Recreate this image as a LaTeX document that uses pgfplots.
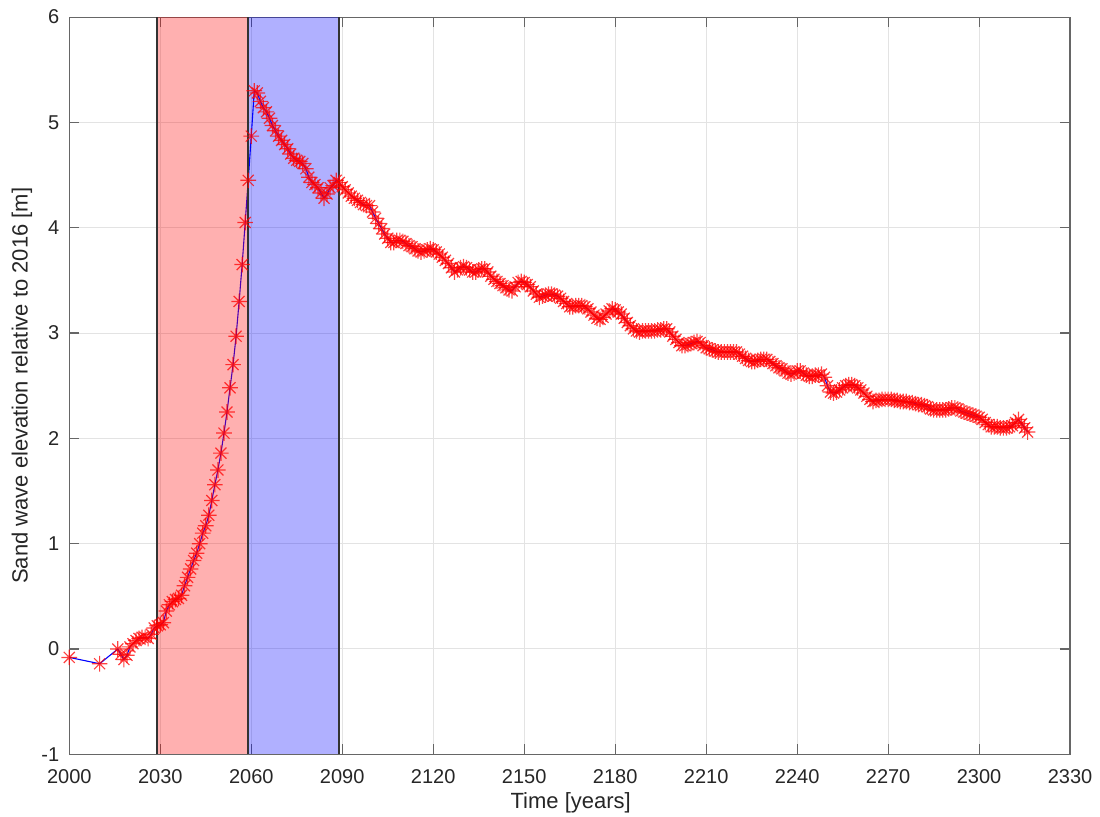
\documentclass[border=0pt]{standalone}
\usepackage{fontspec}
\setmainfont{Liberation Sans}
\usepackage{pgfplots}
\usepackage{pgfplotstable}
\pgfplotsset{compat=1.18}
\pgfdeclareplotmark{ast8}{%
  \pgfpathmoveto{\pgfqpoint{-\pgfplotmarksize}{0pt}}\pgfpathlineto{\pgfqpoint{\pgfplotmarksize}{0pt}}%
  \pgfpathmoveto{\pgfqpoint{0pt}{-\pgfplotmarksize}}\pgfpathlineto{\pgfqpoint{0pt}{\pgfplotmarksize}}%
  \pgfpathmoveto{\pgfqpoint{-0.7071\pgfplotmarksize}{-0.7071\pgfplotmarksize}}\pgfpathlineto{\pgfqpoint{0.7071\pgfplotmarksize}{0.7071\pgfplotmarksize}}%
  \pgfpathmoveto{\pgfqpoint{-0.7071\pgfplotmarksize}{0.7071\pgfplotmarksize}}\pgfpathlineto{\pgfqpoint{0.7071\pgfplotmarksize}{-0.7071\pgfplotmarksize}}%
  \pgfusepathqstroke}
\pgfplotstableread{
year z
2000 -0.08
2010 -0.14
2016 0.00
2017 -0.05
2018 -0.10
2019 -0.06
2020 0.02
2021 0.05
2022 0.08
2023 0.10
2024 0.11
2025 0.11
2026 0.10
2027 0.14
2028 0.20
2029 0.22
2030 0.23
2031 0.25
2032 0.36
2033 0.42
2034 0.45
2035 0.47
2036 0.48
2037 0.51
2038 0.60
2039 0.68
2040 0.76
2041 0.84
2042 0.91
2043 1.00
2044 1.10
2045 1.17
2046 1.27
2047 1.41
2048 1.56
2049 1.70
2050 1.86
2051 2.05
2052 2.25
2053 2.48
2054 2.70
2055 2.97
2056 3.30
2057 3.65
2058 4.05
2059 4.45
2060 4.87
2061 5.30
2062 5.28
2063 5.20
2064 5.14
2065 5.10
2066 5.04
2067 4.97
2068 4.92
2069 4.87
2070 4.83
2071 4.79
2072 4.75
2073 4.70
2074 4.66
2075 4.64
2076 4.63
2077 4.61
2078 4.56
2079 4.48
2080 4.43
2081 4.41
2082 4.38
2083 4.33
2084 4.28
2085 4.32
2086 4.38
2087 4.40
2088 4.45
2089 4.43
2090 4.39
2091 4.36
2092 4.33
2093 4.30
2094 4.28
2095 4.26
2096 4.24
2097 4.22
2098 4.21
2099 4.21
2100 4.15
2101 4.09
2102 4.04
2103 3.99
2104 3.94
2105 3.90
2106 3.86
2107 3.86
2108 3.88
2109 3.88
2110 3.87
2111 3.85
2112 3.83
2113 3.82
2114 3.80
2115 3.78
2116 3.77
2117 3.78
2118 3.79
2119 3.80
2120 3.79
2121 3.77
2122 3.75
2123 3.72
2124 3.69
2125 3.66
2126 3.62
2127 3.58
2128 3.60
2129 3.62
2130 3.63
2131 3.62
2132 3.60
2133 3.58
2134 3.58
2135 3.60
2136 3.61
2137 3.61
2138 3.58
2139 3.54
2140 3.51
2141 3.49
2142 3.47
2143 3.45
2144 3.43
2145 3.41
2146 3.40
2147 3.44
2148 3.48
2149 3.49
2150 3.48
2151 3.46
2152 3.44
2153 3.40
2154 3.37
2155 3.34
2156 3.35
2157 3.36
2158 3.37
2159 3.37
2160 3.36
2161 3.35
2162 3.33
2163 3.30
2164 3.28
2165 3.25
2166 3.25
2167 3.26
2168 3.26
2169 3.26
2170 3.25
2171 3.23
2172 3.20
2173 3.17
2174 3.14
2175 3.13
2176 3.15
2177 3.18
2178 3.21
2179 3.23
2180 3.22
2181 3.20
2182 3.18
2183 3.14
2184 3.10
2185 3.07
2186 3.04
2187 3.02
2188 3.01
2189 3.02
2190 3.02
2191 3.02
2192 3.02
2193 3.02
2194 3.03
2195 3.03
2196 3.04
2197 3.04
2198 3.01
2199 2.97
2200 2.94
2201 2.91
2202 2.88
2203 2.88
2204 2.89
2205 2.90
2206 2.91
2207 2.92
2208 2.91
2209 2.88
2210 2.86
2211 2.85
2212 2.84
2213 2.83
2214 2.82
2215 2.82
2216 2.82
2217 2.82
2218 2.82
2219 2.82
2220 2.82
2221 2.80
2222 2.78
2223 2.76
2224 2.74
2225 2.73
2226 2.73
2227 2.74
2228 2.75
2229 2.75
2230 2.75
2231 2.73
2232 2.71
2233 2.69
2234 2.67
2235 2.66
2236 2.64
2237 2.62
2238 2.61
2239 2.62
2240 2.64
2241 2.64
2242 2.62
2243 2.60
2244 2.59
2245 2.59
2246 2.60
2247 2.60
2248 2.61
2249 2.58
2250 2.50
2251 2.44
2252 2.43
2253 2.44
2254 2.46
2255 2.48
2256 2.50
2257 2.51
2258 2.51
2259 2.50
2260 2.48
2261 2.46
2262 2.43
2263 2.40
2264 2.37
2265 2.35
2266 2.36
2267 2.36
2268 2.37
2269 2.37
2270 2.37
2271 2.37
2272 2.36
2273 2.36
2274 2.35
2275 2.35
2276 2.35
2277 2.34
2278 2.34
2279 2.33
2280 2.32
2281 2.32
2282 2.31
2283 2.30
2284 2.28
2285 2.27
2286 2.27
2287 2.27
2288 2.27
2289 2.27
2290 2.28
2291 2.29
2292 2.29
2293 2.28
2294 2.26
2295 2.25
2296 2.24
2297 2.23
2298 2.22
2299 2.21
2300 2.20
2301 2.18
2302 2.15
2303 2.13
2304 2.11
2305 2.11
2306 2.11
2307 2.10
2308 2.10
2309 2.10
2310 2.11
2311 2.12
2312 2.15
2313 2.18
2314 2.14
2315 2.10
2316 2.06
}\sandwave
\begin{document}
\begin{tikzpicture}
\begin{axis}[
  scale only axis, width=500.4pt, height=368.6pt,
  xmin=2000, xmax=2330, ymin=-1, ymax=6,
  xtick={2000,2030,...,2330}, ytick={-1,0,...,6},
  grid=major, major grid style={black!11, line width=0.5pt},
  tick align=inside, major tick length=5pt,
  axis line style={black!60, line width=0.6pt},
  tick style={black!60, line width=0.6pt},
  ticklabel style={font=\fontsize{10}{12}\selectfont, text=black!85},
  xticklabel style={yshift=-4pt},
  yticklabel style={xshift=-1.5pt},
  /pgf/number format/assume math mode=true,
  /pgf/number format/1000 sep={},
  xlabel={Time [years]},
  ylabel={Sand wave elevation relative to 2016 [m]},
  label style={font=\fontsize{11}{13}\selectfont, text=black!85},
  xlabel style={at={(axis description cs:0.501,-0.074)}, anchor=base},
  ylabel style={at={(axis description cs:-0.0473,0.5)}, anchor=center},
]
\addplot[only marks, mark=ast8, mark size=3.9pt, mark options={draw=red, draw opacity=0.75, line width=0.6pt}] table[x=year, y=z] {\sandwave};
\addplot[blue, line width=0.55pt, no marks] table[x=year, y=z] {\sandwave};
\fill[red, fill opacity=0.31] (axis cs:2029,-1) rectangle (axis cs:2059,6);
\fill[blue, fill opacity=0.31] (axis cs:2059,-1) rectangle (axis cs:2089,6);
\draw[black!80, line width=0.8pt] (axis cs:2029,-1) -- (axis cs:2029,6);
\draw[black!80, line width=0.8pt] (axis cs:2059,-1) -- (axis cs:2059,6);
\draw[black!80, line width=0.8pt] (axis cs:2089,-1) -- (axis cs:2089,6);
\coordinate (sw) at (rel axis cs:0,0);
\end{axis}
\pgfresetboundingbox
\path[use as bounding box] ([shift={(-34.65pt,-30.85pt)}]sw) rectangle ++(550pt,408pt);
\end{tikzpicture}
\end{document}
